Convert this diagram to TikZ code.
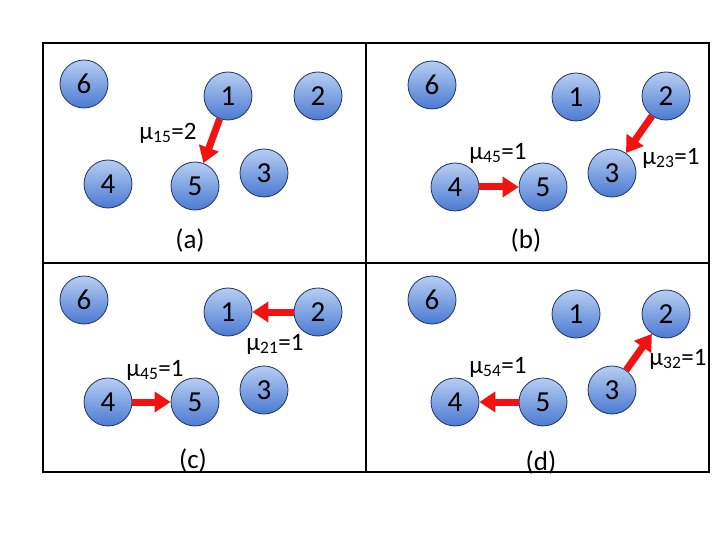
\documentclass[tikz,border=0pt]{standalone}
\usepackage{fontspec}
\setmainfont{Carlito}
\usetikzlibrary{arrows.meta,positioning}

\definecolor{balltop}{HTML}{B7CEF2}
\definecolor{ballbot}{HTML}{4A7AD2}
\definecolor{ballline}{HTML}{1E3260}
\definecolor{flowred}{HTML}{F21212}

\newcommand{\mulab}[2]{μ\textsubscript{#1}=#2}

\begin{document}
\begin{tikzpicture}[x=1pt,y=-1pt,
        ball/.style = {circle, draw=ballline, line width=0.8pt, minimum size=48pt, inner sep=0pt,
                top color=balltop, bottom color=ballbot, font=\fontsize{29}{34}\selectfont},
        flow/.style = {draw=flowred, line width=7pt, -{Triangle[length=16pt,width=20pt]}},
        lab/.style = {inner sep=0pt, font=\fontsize{25}{30}\selectfont},
        panelcap/.style = {inner sep=0pt, font=\fontsize{27}{32}\selectfont},
        frame/.style = {draw, line width=2.5pt},
    ]
        \useasboundingbox (0,0) rectangle (720,540);
        \fill[white] (0,0) rectangle (720,540);

        % frame of the four panels
        \draw[frame] (43,43) rectangle (709,472);
        \draw[frame] (366,43) -- (366,472);
        \draw[frame] (43,263) -- (709,263);

        % (a)
        \node[ball] (a6) at (84,84) {6};
        \node[ball] (a1) at (228,96) {1};
        \node[ball] (a2) at (318,96) {2};
        \node[ball] (a4) at (108,184) {4};
        \node[ball] (a5) at (195,186) {5};
        \node[ball] (a3) at (264,173) {3};
        \draw[flow] (a1) -- (a5);
        \node[lab] at (168,133) {\mulab{15}{2}};
        \node[panelcap] at (190,240) {(a)};

        % (b)
        \node[ball] (b6) at (432,85) {6};
        \node[ball] (b1) at (576,97) {1};
        \node[ball] (b2) at (666,96) {2};
        \node[ball] (b4) at (455,187) {4};
        \node[ball] (b5) at (543,187) {5};
        \node[ball] (b3) at (612,173) {3};
        \draw[flow] (b4) -- (b5);
        \draw[flow] (b2) -- (b3);
        \node[lab] at (498,153) {\mulab{45}{1}};
        \node[lab] at (671,158) {\mulab{23}{1}};
        \node[panelcap] at (526,240) {(b)};

        % (c)
        \node[ball] (c6) at (84,300) {6};
        \node[ball] (c1) at (228,312) {1};
        \node[ball] (c2) at (318,312) {2};
        \node[ball] (c4) at (108,402) {4};
        \node[ball] (c5) at (195,402) {5};
        \node[ball] (c3) at (264,390) {3};
        \draw[flow] (c2) -- (c1);
        \draw[flow] (c4) -- (c5);
        \node[lab] at (275,344) {\mulab{21}{1}};
        \node[lab] at (155,370) {\mulab{45}{1}};
        \node[panelcap] at (193,460) {(c)};

        % (d)
        \node[ball] (d6) at (432,300) {6};
        \node[ball] (d1) at (576,314) {1};
        \node[ball] (d2) at (666,314) {2};
        \node[ball] (d4) at (455,402) {4};
        \node[ball] (d5) at (543,402) {5};
        \node[ball] (d3) at (612,390) {3};
        \draw[flow] (d5) -- (d4);
        \draw[flow] (d3) -- (d2);
        \node[lab] at (498,367) {\mulab{54}{1}};
        \node[lab] at (678,359) {\mulab{32}{1}};
        \node[panelcap] at (541,462) {(d)};
    \end{tikzpicture}
\end{document}
